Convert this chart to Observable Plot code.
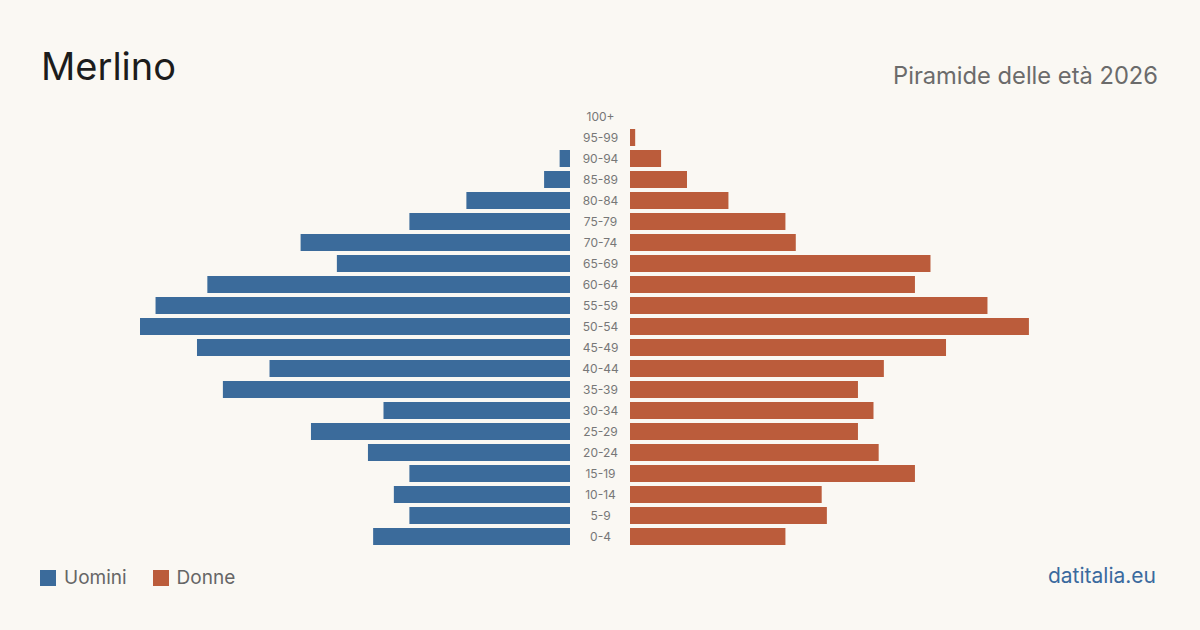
<!DOCTYPE html>
<html>
<head>
<meta charset="utf-8">
<script src="https://cdn.jsdelivr.net/npm/d3@7"></script>
<script src="https://cdn.jsdelivr.net/npm/@observablehq/plot@0.6"></script>
<style>
  html, body { margin: 0; padding: 0; background: #faf8f3; }
  #wrap { position: relative; width: 1200px; height: 630px; overflow: hidden; font-family: Inter, "Noto Sans", sans-serif; }
  .t { position: absolute; line-height: 1; white-space: nowrap; }
  #title { left: 41px; top: 47px; font-size: 38px; color: #1c1c1c; }
  #subtitle { right: 42px; top: 64px; font-size: 23.7px; color: #6b6b6b; }
  #legend { position: absolute; left: 40px; top: 566px; font-size: 19px; color: #666; display: flex; align-items: center; }
  .sw { display: inline-block; width: 16px; height: 16px; margin-right: 8px; }
  .item { display: flex; align-items: center; margin-right: 26px; }
  #footer { right: 44px; top: 565px; font-size: 21px; color: #3a6a9e; }
  #chart { position: absolute; left: 0; top: 0; }
</style>
</head>
<body>
<div id="wrap">
  <div id="chart"></div>
  <div class="t" id="title">Merlino</div>
  <div class="t" id="subtitle">Piramide delle età 2026</div>
  <div id="legend">
    <div class="item"><span class="sw" style="background:#3b6b9b"></span><span>Uomini</span></div>
    <div class="item"><span class="sw" style="background:#bb5c3b"></span><span>Donne</span></div>
  </div>
  <div class="t" id="footer">datitalia.eu</div>
</div>
<script>
const ages = ["0-4","5-9","10-14","15-19","20-24","25-29","30-34","35-39","40-44","45-49","50-54","55-59","60-64","65-69","70-74","75-79","80-84","85-89","90-94","95-99","100+"];
const men = [38,31,34,31,39,50,36,67,58,72,83,80,70,45,52,31,20,5,2,0,0];
const women = [30,38,37,55,48,44,47,44,49,61,77,69,55,58,32,30,19,11,6,1,0];

const rows = ages.map((a, i) => ({age: a, men: men[i], women: women[i]}));
const maxV = d3.max([...men, ...women]);

const chart = Plot.plot({
  width: 1200,
  height: 630,
  marginLeft: 170,
  marginRight: 170,
  marginTop: 106,
  marginBottom: 83,
  style: {background: "transparent", fontFamily: "Inter, 'Noto Sans', sans-serif"},
  x: {domain: [-maxV, maxV], axis: null},
  y: {domain: ages.slice().reverse(), axis: null, paddingInner: 0.19, paddingOuter: 0.095},
  marks: [
    Plot.barX(rows, {y: "age", x1: 0, x2: d => -d.men, dx: -30, fill: "#3b6b9b"}),
    Plot.barX(rows, {y: "age", x1: 0, x2: "women", dx: 30, fill: "#bb5c3b"}),
    Plot.text(rows, {y: "age", x: 0, text: "age", fontSize: 12, fill: "#777"})
  ]
});
document.getElementById("chart").appendChild(chart);
</script>
</body>
</html>
